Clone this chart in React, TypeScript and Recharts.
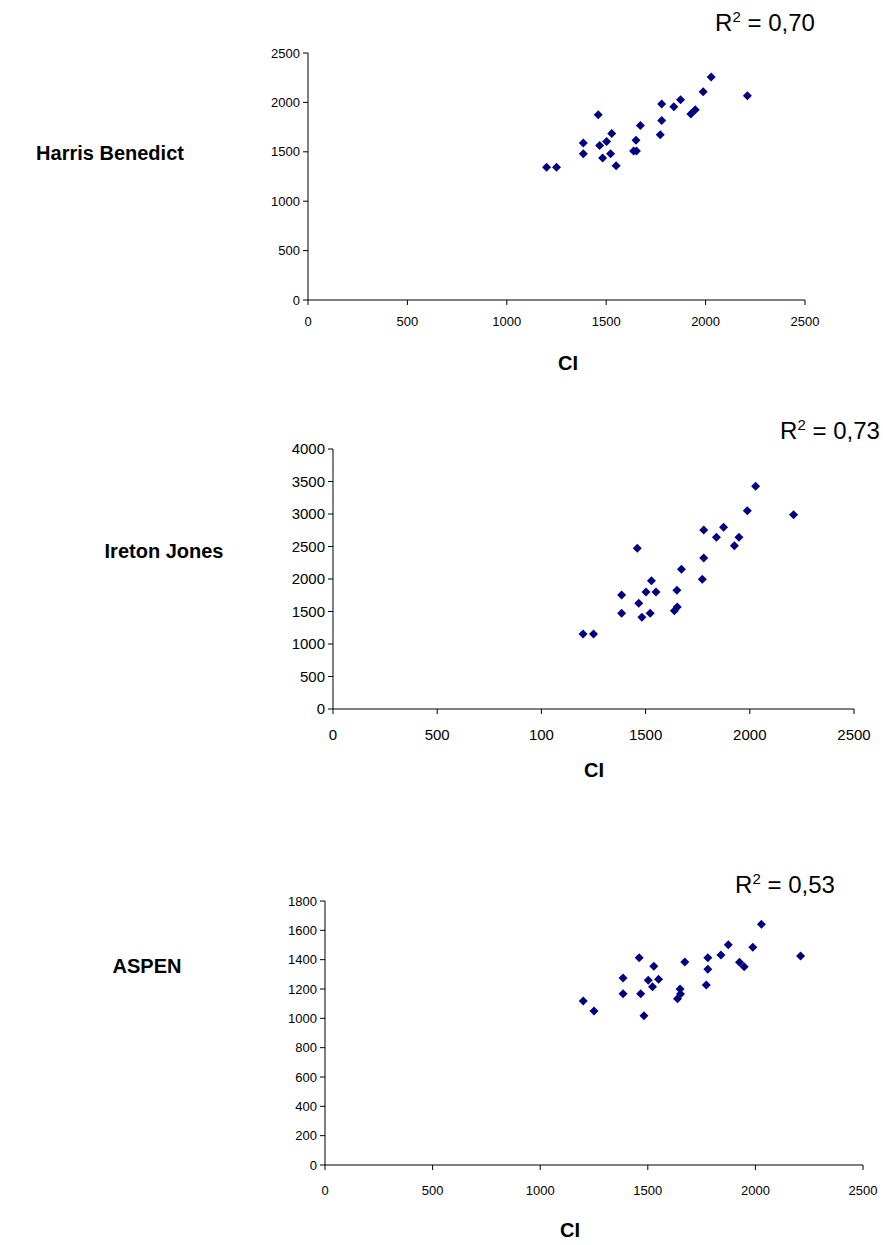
import React from 'react'
import { ScatterChart, Scatter, XAxis, YAxis } from 'recharts'

// CI values (shared x for the three panels)
const ci = [
  1200, 1250, 1385, 1385, 1460, 1467, 1482, 1502, 1528, 1522, 1550, 1638, 1652,
  1650, 1672, 1772, 1779, 1779, 1840, 1874, 1926, 1948, 1988, 2028, 2210,
]

const harrisBenedict = [
  1344, 1344, 1590, 1479, 1875, 1563, 1438, 1603, 1686, 1479, 1358, 1509, 1509,
  1616, 1767, 1673, 1817, 1983, 1956, 2026, 1882, 1925, 2107, 2258, 2067,
]

const iretonJones = [
  1154, 1154, 1754, 1472, 2472, 1626, 1411, 1800, 1974, 1472, 1800, 1512, 1569,
  1826, 2149, 1995, 2323, 2754, 2642, 2795, 2512, 2642, 3051, 3426, 2989,
]

const aspen = [
  1118, 1050, 1275, 1168, 1413, 1168, 1018, 1259, 1355, 1216, 1266, 1134, 1166,
  1200, 1384, 1227, 1334, 1413, 1432, 1502, 1382, 1352, 1484, 1641, 1425,
]

const xTicks = [0, 500, 1000, 1500, 2000, 2500]
const xTickLabels = ['0', '500', '1000', '1500', '2000', '2500']
// the middle chart's source has "100" under 1000
const xTickLabelsIJ = ['0', '500', '100', '1500', '2000', '2500']
const yTicksHB = [0, 500, 1000, 1500, 2000, 2500]
const yTicksIJ = [0, 500, 1000, 1500, 2000, 2500, 3000, 3500, 4000]
const yTicksAspen = [0, 200, 400, 600, 800, 1000, 1200, 1400, 1600, 1800]

const FONT = "'Liberation Sans', Arial, sans-serif"
const MARK = '#000080'

const toRows = (ys: number[]) => ci.map((x, i) => ({ x, y: ys[i] }))

const Diamond = (props: any) => {
  const { cx, cy } = props
  const r = 4.5
  return (
    <polygon
      points={`${cx},${cy - r} ${cx + r},${cy} ${cx},${cy + r} ${cx - r},${cy}`}
      fill={MARK}
    />
  )
}

type PanelProps = {
  top: number
  height: number
  plotTop: number
  plotBottom: number
  plotLeft: number
  plotRight: number
  ys: number[]
  yTicks: number[]
  xLabels: string[]
  fontSize: number
  xTickGap: number
  name: string
  nameX: number
  nameY: number
  r2: string
  r2X: number
  r2Y: number
  ciX: number
  ciY: number
}

function Panel(p: PanelProps) {
  const data = toRows(p.ys)
  const yMax = p.yTicks[p.yTicks.length - 1]
  const tick = { fill: '#000', fontSize: p.fontSize, fontFamily: FONT }
  return (
    <>
      <div style={{ position: 'absolute', left: 0, top: p.top }}>
        <ScatterChart
          width={883}
          height={p.height}
          margin={{ top: p.plotTop, right: 883 - p.plotRight, bottom: 0, left: 0 }}
        >
          <XAxis
            type="number"
            dataKey="x"
            domain={[0, 2500]}
            ticks={xTicks}
            tickFormatter={(v: number) => p.xLabels[xTicks.indexOf(v)]}
            height={p.height - p.plotBottom}
            stroke="#000"
            tickSize={5}
            tickMargin={p.xTickGap}
            tick={tick}
            interval={0}
          />
          <YAxis
            type="number"
            dataKey="y"
            domain={[0, yMax]}
            ticks={p.yTicks}
            width={p.plotLeft}
            stroke="#000"
            tickSize={5}
            tickMargin={3}
            tick={tick}
            interval={0}
          />
          <Scatter data={data} shape={<Diamond />} isAnimationActive={false} />
        </ScatterChart>
      </div>
      <div
        style={{
          position: 'absolute',
          left: p.nameX,
          top: p.top + p.nameY,
          transform: 'translate(-50%, -50%)',
          fontFamily: FONT,
          fontWeight: 'bold',
          fontSize: 20,
          whiteSpace: 'nowrap',
        }}
      >
        {p.name}
      </div>
      <div
        style={{
          position: 'absolute',
          left: p.ciX,
          top: p.top + p.ciY,
          transform: 'translate(-50%, -50%)',
          fontFamily: FONT,
          fontWeight: 'bold',
          fontSize: 20,
        }}
      >
        CI
      </div>
      <div
        style={{
          position: 'absolute',
          left: p.r2X,
          top: p.top + p.r2Y,
          transform: 'translate(-50%, -50%)',
          fontFamily: FONT,
          fontSize: 24,
          whiteSpace: 'nowrap',
        }}
      >
        R<sup style={{ fontSize: 15, verticalAlign: 9 }}>2</sup> = {p.r2}
      </div>
    </>
  )
}

export default function App() {
  return (
    <div
      style={{
        position: 'absolute',
        left: 0,
        top: 0,
        width: 883,
        height: 1245,
        background: '#fff',
        overflow: 'hidden',
      }}
    >
      <Panel
        top={0}
        height={400}
        plotTop={53}
        plotBottom={300}
        plotLeft={308}
        plotRight={805}
        ys={harrisBenedict}
        yTicks={yTicksHB}
        xLabels={xTickLabels}
        fontSize={13}
        xTickGap={12}
        name="Harris Benedict"
        nameX={110}
        nameY={153}
        r2="0,70"
        r2X={765}
        r2Y={22}
        ciX={568}
        ciY={363}
      />
      <Panel
        top={400}
        height={400}
        plotTop={49}
        plotBottom={309}
        plotLeft={333}
        plotRight={854}
        ys={iretonJones}
        yTicks={yTicksIJ}
        xLabels={xTickLabelsIJ}
        fontSize={15}
        xTickGap={15}
        name="Ireton Jones"
        nameX={164}
        nameY={151}
        r2="0,73"
        r2X={830}
        r2Y={30}
        ciX={594}
        ciY={370}
      />
      <Panel
        top={800}
        height={445}
        plotTop={101}
        plotBottom={365}
        plotLeft={325}
        plotRight={863}
        ys={aspen}
        yTicks={yTicksAspen}
        xLabels={xTickLabels}
        fontSize={13}
        xTickGap={16}
        name="ASPEN"
        nameX={147}
        nameY={166}
        r2="0,53"
        r2X={785}
        r2Y={84}
        ciX={570}
        ciY={430}
      />
    </div>
  )
}
